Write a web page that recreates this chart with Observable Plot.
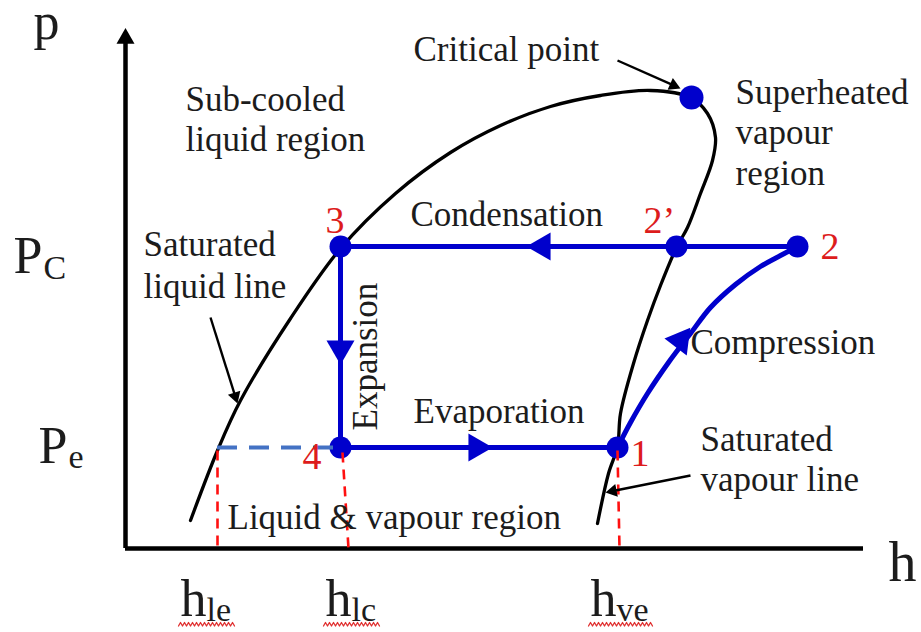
<!DOCTYPE html>
<html><head><meta charset="utf-8">
<script src="https://cdn.jsdelivr.net/npm/d3@7"></script>
<script src="https://cdn.jsdelivr.net/npm/@observablehq/plot@0.6"></script>
<style>
html,body{margin:0;padding:0;background:#fff}
#chart svg{display:block}
#chart svg text{font-family:"Liberation Serif","Times New Roman","DejaVu Serif",serif !important}
</style>
</head><body><div id="chart"></div>
<script>
// ---- Data (h, p in schematic units; origin at axes intersection) ----
// Saturation dome (saturated liquid line -> critical point -> saturated vapour line)
const domeH = [65, 92, 115, 165, 215, 270, 325, 375, 425, 475, 525, 565, 582, 590, 587, 575, 562, 551, 535, 522, 508, 495, 492, 483, 472];
const domeP = [28, 98, 148, 230, 300, 355, 396, 423, 442, 453, 458, 451, 435, 411, 388, 355, 321, 301, 263, 228, 185, 135, 102, 75, 25];

// Cycle state points
const stateName = ["1", "2", "2’", "3", "4"];
const stateH = [492, 672, 551, 215, 215];
const stateP = [101, 302, 302, 302, 101];
const criticalH = [566];
const criticalP = [451];

// Compression path 1 -> 2
const compH = [492, 505, 522, 543, 565, 585, 610, 635, 655, 672];
const compP = [101, 126, 155, 186, 215, 241, 264, 282, 293, 302];

// Flow direction arrows on the cycle (position + direction)
const flowH = [417, 215, 351, 555];
const flowP = [302, 200, 101, 208];
const flowDH = [-1, 0, 1, 42];
const flowDP = [0, -1, 0, 55];

// Annotation arrows (from -> to)
const annFromH = [492, 85, 565];
const annFromP = [488, 231, 73];
const annToH = [555, 112, 480];
const annToP = [460, 145, 56];

// Reference enthalpies (vertical red dashed lines)
const refH1 = [92, 217, 492];
const refH2 = [92, 223, 494];
const refTop = [98, 96, 98];

// Region / process labels
const labelText = ["Critical point", "Sub-cooled", "liquid region", "Superheated", "vapour", "region",
  "Saturated", "liquid line", "Condensation", "Evaporation", "Compression", "Saturated", "vapour line",
  "Liquid & vapour region"];
const labelH = [288, 60, 60, 610, 610, 610, 18, 18, 285, 288, 565, 575, 575, 102];
const labelP = [488, 438, 398, 445, 405, 364, 293, 251, 323, 126, 195, 98, 58, 20];

// State number labels
const numText = ["3", "2’", "2", "1", "4"];
const numH = [200, 518, 695, 505, 177];
const numP = [316, 316, 290, 83, 80];

// Axis labels
const axisMain = ["p", "P", "P", "h", "h", "h", "h"];
const axisMainH = [-92, -112, -87, 763, 55, 200, 465];
const axisMainP = [510, 276, 86, -32, -67, -67, -67];
const axisSub = ["C", "e", "le", "lc", "ve"];
const axisSubH = [-82, -57, 81, 226, 491];
const axisSubP = [270, 81, -72, -72, -72];
// spell-check underline spans under the h labels
const squigStart = [53, 198, 463];
const squigEnd = [110, 255, 528];
const squigP = [-76, -76, -76];

// ---- Build tables ----
const dome = domeH.map((h, i) => ({h, p: domeP[i]}));
const comp = compH.map((h, i) => ({h, p: compP[i]}));
const byName = Object.fromEntries(stateName.map((n, i) => [n, {h: stateH[i], p: stateP[i]}]));
const cycle = ["2", "3", "4", "1"].map(n => byName[n]);
const states = stateName.map((n, i) => ({n, h: stateH[i], p: stateP[i]}));
const crit = criticalH.map((h, i) => ({h, p: criticalP[i]}));
const deg = (dh, dp) => Math.atan2(dh, dp) * 180 / Math.PI;
const flows = flowH.map((h, i) => ({h, p: flowP[i], a: deg(flowDH[i], flowDP[i])}));
const sideBlack = 13;
const anns = annFromH.map((h, i) => {
  const dh = annToH[i] - h, dp = annToP[i] - annFromP[i];
  const L = Math.hypot(dh, dp), off = sideBlack / Math.sqrt(3);
  return {h1: h, p1: annFromP[i], h2: annToH[i], p2: annToP[i],
    ch: annToH[i] - dh / L * off, cp: annToP[i] - dp / L * off, a: deg(dh, dp)};
});
const refs = refH1.map((h, i) => ({h1: h, h2: refH2[i], top: refTop[i]}));
const labels = labelText.map((t, i) => ({t, h: labelH[i], p: labelP[i]}));
const nums = numText.map((t, i) => ({t, h: numH[i], p: numP[i]}));
const mainL = axisMain.map((t, i) => ({t, h: axisMainH[i], p: axisMainP[i], big: t === "h" && axisMainH[i] > 700}));
const subL = axisSub.map((t, i) => ({t, h: axisSubH[i], p: axisSubP[i]}));
// decorative wavy underline paths
const squig = [];
squigStart.forEach((s, k) => {
  for (let h = s, j = 0; h <= squigEnd[k]; h += 2, j++) squig.push({k, h, p: squigP[k] + (j % 2 ? 2 : -1.5)});
});
const yAxisTop = 509;
const sideAxis = 18;
const triR = s => Math.sqrt((Math.sqrt(3) / 4) * s * s / Math.PI);

const BLUE = "#0000cc", RED = "#dd1c1c", INK = "#1c1c1c";
const FONT = "Liberation Serif";

const chart = Plot.plot({
  width: 921, height: 632, margin: 0,
  x: {domain: [-125, 796], range: [0, 921], axis: null},
  y: {domain: [-84, 548], range: [632, 0], axis: null},
  style: {background: "#fff", overflow: "visible"},
  marks: [
    // axes
    Plot.ruleX([0], {y1: 0, y2: yAxisTop, stroke: "#000", strokeWidth: 4.5}),
    Plot.ruleY([0], {x1: 0, x2: 738, stroke: "#000", strokeWidth: 4.5}),
    Plot.dot([{h: 0, p: yAxisTop + 1}], {x: "h", y: "p", symbol: "triangle", r: triR(sideAxis), fill: "#000"}),
    // dome
    Plot.line(dome, {x: "h", y: "p", curve: "catmull-rom", stroke: "#000", strokeWidth: 3.3}),
    // cycle
    Plot.line(cycle, {x: "h", y: "p", stroke: BLUE, strokeWidth: 5, strokeLinejoin: "round"}),
    Plot.line(comp, {x: "h", y: "p", curve: "catmull-rom", stroke: BLUE, strokeWidth: 5}),
    Plot.dot(flows, {x: "h", y: "p", symbol: "triangle", r: triR(28), fill: BLUE, rotate: "a"}),
    Plot.dot(states, {x: "h", y: "p", r: 11, fill: BLUE}),
    Plot.dot(crit, {x: "h", y: "p", r: 12, fill: BLUE}),
    // dashed reference lines
    Plot.link(refs, {x1: "h1", x2: "h2", y1: "top", y2: 0, stroke: "#ff1010", strokeWidth: 2.6, strokeDasharray: "10,7"}),
    Plot.ruleY([stateP[4]], {x1: refH1[0], x2: stateH[4], stroke: "#4472c4", strokeWidth: 4, strokeDasharray: "20,12"}),
    // annotation arrows
    Plot.link(anns, {x1: "h1", y1: "p1", x2: "ch", y2: "cp", stroke: "#000", strokeWidth: 2.4}),
    Plot.dot(anns, {x: "ch", y: "cp", symbol: "triangle", r: triR(sideBlack), fill: "#000", rotate: "a"}),
    // text
    Plot.text(labels, {x: "h", y: "p", text: "t", textAnchor: "start", lineAnchor: "bottom", fontSize: 35, fontFamily: FONT, fill: INK}),
    Plot.text(["Expansion"], {x: 251, y: 118, text: d => d, textAnchor: "start", lineAnchor: "bottom", rotate: -90, fontSize: 35, fontFamily: FONT, fill: INK}),
    Plot.text(nums, {x: "h", y: "p", text: "t", textAnchor: "start", lineAnchor: "bottom", fontSize: 38, fontFamily: FONT, fill: RED}),
    Plot.text(mainL, {x: "h", y: "p", text: "t", textAnchor: "start", lineAnchor: "bottom", fontSize: d => d.big ? 56 : 52, fontFamily: FONT, fill: INK}),
    Plot.text(subL, {x: "h", y: "p", text: "t", textAnchor: "start", lineAnchor: "bottom", fontSize: 34, fontFamily: FONT, fill: INK}),
    Plot.line(squig, {x: "h", y: "p", z: "k", stroke: "#e03030", strokeWidth: 1.3})
  ]
});
document.getElementById("chart").appendChild(chart);
</script>
</body></html>
